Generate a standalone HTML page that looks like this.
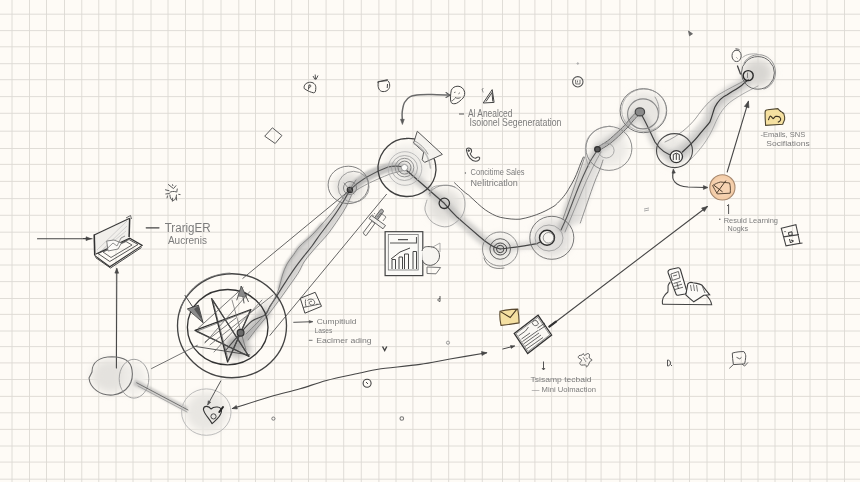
<!DOCTYPE html>
<html><head><meta charset="utf-8"><style>
html,body{margin:0;padding:0;background:#fefbf6;overflow:hidden;}
svg{display:block;}
text{font-family:"Liberation Sans",sans-serif;}
</style></head><body>
<svg width="860" height="482" viewBox="0 0 860 482">
<defs>
<filter id="s1" x="-5%" y="-5%" width="110%" height="110%"><feGaussianBlur stdDeviation="0.35"/></filter>
<filter id="b1" x="-20%" y="-20%" width="140%" height="140%"><feGaussianBlur stdDeviation="1.2"/></filter>
<filter id="b2" x="-20%" y="-20%" width="140%" height="140%"><feGaussianBlur stdDeviation="2"/></filter>
<filter id="b3" x="-30%" y="-30%" width="160%" height="160%"><feGaussianBlur stdDeviation="3"/></filter>
<filter id="b4" x="-50%" y="-50%" width="200%" height="200%"><feGaussianBlur stdDeviation="4"/></filter>
</defs>
<rect x="0" y="0" width="860" height="482" fill="#fefbf6"/>
<g stroke="#dcd9d4" stroke-width="0.9">
<line x1="12" y1="0" x2="12" y2="482"/>
<line x1="29.5" y1="0" x2="29.5" y2="482"/>
<line x1="46.5" y1="0" x2="46.5" y2="482"/>
<line x1="64.5" y1="0" x2="64.5" y2="482"/>
<line x1="81.75" y1="0" x2="81.75" y2="482"/>
<line x1="98.75" y1="0" x2="98.75" y2="482"/>
<line x1="116" y1="0" x2="116" y2="482"/>
<line x1="133" y1="0" x2="133" y2="482"/>
<line x1="151" y1="0" x2="151" y2="482"/>
<line x1="168" y1="0" x2="168" y2="482"/>
<line x1="185.5" y1="0" x2="185.5" y2="482"/>
<line x1="203" y1="0" x2="203" y2="482"/>
<line x1="221" y1="0" x2="221" y2="482"/>
<line x1="238.8" y1="0" x2="238.8" y2="482"/>
<line x1="255.5" y1="0" x2="255.5" y2="482"/>
<line x1="274.6" y1="0" x2="274.6" y2="482"/>
<line x1="291.7" y1="0" x2="291.7" y2="482"/>
<line x1="308.5" y1="0" x2="308.5" y2="482"/>
<line x1="326.1" y1="0" x2="326.1" y2="482"/>
<line x1="343.7" y1="0" x2="343.7" y2="482"/>
<line x1="361.3" y1="0" x2="361.3" y2="482"/>
<line x1="378.9" y1="0" x2="378.9" y2="482"/>
<line x1="396" y1="0" x2="396" y2="482"/>
<line x1="412.9" y1="0" x2="412.9" y2="482"/>
<line x1="431.2" y1="0" x2="431.2" y2="482"/>
<line x1="448.65" y1="0" x2="448.65" y2="482"/>
<line x1="464.8" y1="0" x2="464.8" y2="482"/>
<line x1="482.3" y1="0" x2="482.3" y2="482"/>
<line x1="502.5" y1="0" x2="502.5" y2="482"/>
<line x1="519.3" y1="0" x2="519.3" y2="482"/>
<line x1="534.9" y1="0" x2="534.9" y2="482"/>
<line x1="551.6" y1="0" x2="551.6" y2="482"/>
<line x1="567.8" y1="0" x2="567.8" y2="482"/>
<line x1="585.9" y1="0" x2="585.9" y2="482"/>
<line x1="601.1" y1="0" x2="601.1" y2="482"/>
<line x1="619.9" y1="0" x2="619.9" y2="482"/>
<line x1="636.7" y1="0" x2="636.7" y2="482"/>
<line x1="655" y1="0" x2="655" y2="482"/>
<line x1="673.2" y1="0" x2="673.2" y2="482"/>
<line x1="689.5" y1="0" x2="689.5" y2="482"/>
<line x1="707" y1="0" x2="707" y2="482"/>
<line x1="724.5" y1="0" x2="724.5" y2="482"/>
<line x1="741.25" y1="0" x2="741.25" y2="482"/>
<line x1="758" y1="0" x2="758" y2="482"/>
<line x1="775" y1="0" x2="775" y2="482"/>
<line x1="792.5" y1="0" x2="792.5" y2="482"/>
<line x1="810" y1="0" x2="810" y2="482"/>
<line x1="827" y1="0" x2="827" y2="482"/>
<line x1="844.5" y1="0" x2="844.5" y2="482"/>
<line x1="0" y1="14.2" x2="860" y2="14.2"/>
<line x1="0" y1="30.6" x2="860" y2="30.6"/>
<line x1="0" y1="46.8" x2="860" y2="46.8"/>
<line x1="0" y1="63.7" x2="860" y2="63.7"/>
<line x1="0" y1="79.7" x2="860" y2="79.7"/>
<line x1="0" y1="96.6" x2="860" y2="96.6"/>
<line x1="0" y1="113.3" x2="860" y2="113.3"/>
<line x1="0" y1="131.2" x2="860" y2="131.2"/>
<line x1="0" y1="148.5" x2="860" y2="148.5"/>
<line x1="0" y1="164.4" x2="860" y2="164.4"/>
<line x1="0" y1="181.4" x2="860" y2="181.4"/>
<line x1="0" y1="198.6" x2="860" y2="198.6"/>
<line x1="0" y1="215.3" x2="860" y2="215.3"/>
<line x1="0" y1="232.2" x2="860" y2="232.2"/>
<line x1="0" y1="249.1" x2="860" y2="249.1"/>
<line x1="0" y1="265" x2="860" y2="265"/>
<line x1="0" y1="281.6" x2="860" y2="281.6"/>
<line x1="0" y1="298.5" x2="860" y2="298.5"/>
<line x1="0" y1="314.4" x2="860" y2="314.4"/>
<line x1="0" y1="331" x2="860" y2="331"/>
<line x1="0" y1="346.6" x2="860" y2="346.6"/>
<line x1="0" y1="362.9" x2="860" y2="362.9"/>
<line x1="0" y1="379.5" x2="860" y2="379.5"/>
<line x1="0" y1="396.4" x2="860" y2="396.4"/>
<line x1="0" y1="412.8" x2="860" y2="412.8"/>
<line x1="0" y1="429.4" x2="860" y2="429.4"/>
<line x1="0" y1="446" x2="860" y2="446"/>
<line x1="0" y1="462.1" x2="860" y2="462.1"/>
<line x1="0" y1="479.2" x2="860" y2="479.2"/>
</g>
<g filter="url(#b4)">
<ellipse cx="110.1" cy="376" rx="19" ry="17" fill="#e4e2de" stroke="none" stroke-width="1.0" opacity="1"/>
<ellipse cx="134" cy="379" rx="12" ry="16" fill="#eeece8" stroke="none" stroke-width="1.0" opacity="1"/>
<ellipse cx="206.3" cy="412.1" rx="21" ry="20" fill="#e8e6e2" stroke="none" stroke-width="1.0" opacity="1"/>
<ellipse cx="444.6" cy="206.1" rx="17" ry="17" fill="#e2e0dc" stroke="none" stroke-width="1.0" opacity="1"/>
<ellipse cx="551.8" cy="237.8" rx="19" ry="19" fill="#e0dedb" stroke="none" stroke-width="1.0" opacity="1"/>
<ellipse cx="757.6" cy="72.9" rx="15" ry="14" fill="#d8d6d2" stroke="none" stroke-width="1.0" opacity="1"/>
<ellipse cx="609.5" cy="148.5" rx="18" ry="18" fill="#ebe9e5" stroke="none" stroke-width="1.0" opacity="1"/>
<ellipse cx="643.7" cy="111.1" rx="20" ry="19" fill="#e8e6e2" stroke="none" stroke-width="1.0" opacity="1"/>
<ellipse cx="674.5" cy="150.6" rx="15" ry="15" fill="#ebe9e5" stroke="none" stroke-width="1.0" opacity="1"/>
<ellipse cx="406.8" cy="167.6" rx="22" ry="22" fill="#eeece8" stroke="none" stroke-width="1.0" opacity="1"/>
<ellipse cx="349" cy="187" rx="15" ry="14" fill="#e0deda" stroke="none" stroke-width="1.0" opacity="1"/>
<ellipse cx="500.2" cy="249" rx="15" ry="15" fill="#eceae6" stroke="none" stroke-width="1.0" opacity="1"/>
</g>
<path d="M347.0,192.0 C345.1,193.2 342.5,198.6 340.0,202.0 C337.5,205.4 335.2,208.7 332.2,212.4 C329.2,216.1 325.3,220.3 322.0,224.0 C318.7,227.7 315.9,231.1 312.2,234.8 C308.5,238.5 303.1,242.7 300.0,246.0 C296.9,249.3 295.8,251.7 293.6,254.7 C291.4,257.7 288.9,260.6 287.0,264.0 C285.1,267.4 283.8,271.0 282.5,275.0 C281.2,279.0 280.2,284.2 279.0,288.0 C277.8,291.8 276.8,294.3 275.0,298.0 C273.2,301.7 270.8,306.0 268.0,310.0 C265.2,314.0 261.7,318.0 258.0,322.0 C254.3,326.0 247.7,331.0 246.0,334.0 C244.3,337.0 246.0,341.2 248.0,340.0 C250.0,338.8 254.7,331.2 258.0,327.0 C261.3,322.8 264.6,319.3 268.0,315.0 C271.4,310.7 275.1,305.6 278.2,301.4 C281.3,297.2 283.2,294.5 286.5,289.8 C289.8,285.1 295.2,277.8 298.1,273.2 C301.0,268.6 301.9,265.4 304.0,262.0 C306.1,258.6 308.7,255.8 311.0,253.0 C313.3,250.2 315.3,248.0 318.0,245.0 C320.7,242.0 324.7,237.8 327.2,234.8 C329.7,231.8 330.9,229.9 333.0,227.0 C335.1,224.1 337.4,220.6 339.6,217.3 C341.8,214.0 344.0,210.7 346.0,207.0 C348.0,203.3 351.3,197.5 351.5,195.0 C351.7,192.5 348.9,190.8 347.0,192.0 Z" fill="#b4b4b4" opacity="0.55" filter="url(#b1)"/>
<path d="M322.0,224.0 C320.4,225.8 315.9,231.1 312.2,234.8 C308.5,238.5 303.1,242.7 300.0,246.0 C296.9,249.3 295.8,251.7 293.6,254.7 C291.4,257.7 288.9,260.6 287.0,264.0 C285.1,267.4 283.8,271.0 282.5,275.0 C281.2,279.0 279.6,285.8 279.0,288.0" fill="none" stroke="#999" stroke-width="3.5" opacity="0.5" stroke-linecap="round" stroke-linejoin="round" filter="url(#b1)"/>
<path d="M229.5,355.5 C232.5,355.2 236.6,349.3 240.0,346.5 C243.4,343.6 246.4,341.9 250.0,338.4 C253.7,335.0 258.4,329.8 261.9,325.9 C265.4,322.0 270.7,318.0 271.2,315.2 C271.7,312.3 267.7,308.3 264.8,308.8 C262.0,309.3 257.9,314.7 254.1,318.1 C250.3,321.6 245.7,326.3 242.0,329.6 C238.3,332.8 235.2,334.4 232.0,337.5 C228.7,340.7 222.9,345.5 222.5,348.5 C222.1,351.5 226.6,355.9 229.5,355.5 Z" fill="#a0a0a0" opacity="0.45" filter="url(#b2)"/>
<path d="M352.2,192.5 C354.7,192.1 359.0,187.0 362.6,184.7 C366.3,182.3 369.6,180.6 374.1,178.5 C378.6,176.4 384.5,173.3 389.6,172.0 C394.6,170.8 402.0,172.4 404.5,171.1 C407.0,169.8 407.3,165.4 404.5,164.1 C401.7,162.8 393.6,162.3 387.8,163.2 C382.1,164.1 375.0,167.1 369.9,169.5 C364.8,171.8 361.1,174.4 357.4,177.3 C353.7,180.3 348.4,184.7 347.6,187.3 C346.7,189.8 349.7,193.0 352.2,192.5 Z" fill="#a0a0a0" opacity="0.6" filter="url(#b1)"/>
<path d="M403.0,170.2 C404.3,173.1 410.9,178.6 415.3,182.9 C419.7,187.2 425.0,192.1 429.3,196.0 C433.7,199.9 437.4,202.1 441.5,206.2 C445.7,210.3 449.6,215.9 454.2,220.5 C458.7,225.2 463.8,229.7 468.9,234.2 C474.0,238.6 479.7,244.2 484.7,247.1 C489.7,250.1 496.2,251.9 499.0,251.8 C501.8,251.6 502.9,248.3 501.4,246.2 C499.8,244.2 494.0,242.9 489.7,239.7 C485.4,236.4 480.4,230.9 475.5,226.6 C470.6,222.4 465.2,218.4 460.4,214.1 C455.7,209.7 451.4,204.4 447.1,200.4 C442.8,196.4 439.0,193.9 434.7,190.0 C430.3,186.1 425.3,181.1 420.7,177.1 C416.1,173.0 410.0,166.9 407.0,165.8 C404.1,164.7 401.6,167.3 403.0,170.2 Z" fill="#a4a4a4" opacity="0.5" filter="url(#b2)"/>
<path d="M500.7,252.0 C504.3,252.5 515.2,250.0 521.4,249.2 C527.6,248.3 533.6,248.4 538.0,247.0 C542.4,245.6 546.8,242.7 548.0,240.8 C549.2,238.9 547.0,235.7 545.0,235.6 C543.0,235.5 540.1,239.1 536.0,240.2 C531.9,241.3 526.4,241.3 520.4,242.2 C514.3,243.2 503.0,244.4 499.7,246.0 C496.4,247.7 497.1,251.4 500.7,252.0 Z" fill="#b0b0b0" opacity="0.45" filter="url(#b2)"/>
<path d="M564.7,232.5 C566.9,231.1 569.0,224.4 570.7,220.7 C572.3,217.1 573.0,214.4 574.5,210.4 C576.1,206.5 578.4,201.5 580.1,197.0 C581.8,192.6 583.2,188.0 584.8,183.5 C586.5,179.0 588.4,173.6 590.0,170.0 C591.6,166.5 592.6,165.4 594.4,162.2 C596.2,158.9 600.5,153.0 600.7,150.5 C600.9,148.1 597.9,146.0 595.7,147.3 C593.5,148.5 589.9,154.7 587.6,157.8 C585.3,161.0 584.0,162.3 582.0,166.0 C580.0,169.6 577.6,175.2 575.6,179.7 C573.6,184.2 571.8,188.5 569.9,193.0 C568.0,197.4 565.7,202.5 564.3,206.6 C562.8,210.6 562.5,213.4 561.3,217.3 C560.2,221.1 556.7,226.9 557.3,229.5 C557.9,232.0 562.5,234.0 564.7,232.5 Z" fill="#9a9a9a" opacity="0.45" filter="url(#b2)"/>
<path d="M560.6,229.2 L572,208.5 L582.3,187.7 L590.6,167 L597.9,149.3 L603,160 L600,169 L594.8,181.5 L587.5,202.2 L580.3,223 Z" fill="#c0c0c0" opacity="0.45" filter="url(#b2)"/>
<path d="M599.6,152.6 C602.3,152.6 607.5,148.7 611.4,145.9 C615.3,143.1 618.8,139.8 623.1,135.6 C627.3,131.4 633.6,124.0 636.8,120.5 C640.1,117.1 642.4,116.7 642.5,114.8 C642.5,112.8 639.1,108.9 637.1,108.8 C635.1,108.7 633.8,110.9 630.4,114.3 C627.0,117.7 620.8,125.1 616.7,129.2 C612.7,133.3 609.6,135.9 606.0,138.7 C602.4,141.5 596.5,143.5 595.4,145.8 C594.3,148.1 596.9,152.6 599.6,152.6 Z" fill="#a8a8a8" opacity="0.45" filter="url(#b2)"/>
<path d="M638.4,115.5 C638.5,118.1 642.3,123.0 644.4,127.8 C646.5,132.6 648.3,139.8 651.2,144.4 C654.1,148.9 657.7,152.8 661.7,155.3 C665.8,157.8 672.8,159.8 675.4,159.6 C678.1,159.4 679.1,155.8 677.6,154.0 C676.0,152.2 669.4,151.1 666.3,148.7 C663.1,146.3 661.3,143.7 658.8,139.6 C656.4,135.6 654.1,128.7 651.6,124.2 C649.0,119.7 645.8,113.9 643.6,112.5 C641.4,111.0 638.3,113.0 638.4,115.5 Z" fill="#aaaaaa" opacity="0.45" filter="url(#b2)"/>
<path d="M669.9,162.6 C673.3,163.3 680.9,161.0 686.5,157.7 C692.0,154.3 698.2,147.8 703.2,142.5 C708.2,137.3 713.7,131.5 716.7,126.3 C719.7,121.1 718.6,115.7 721.1,111.3 C723.6,107.0 727.6,103.8 731.6,100.2 C735.7,96.6 742.3,92.7 745.6,89.9 C748.9,87.0 751.2,85.4 751.3,83.2 C751.5,81.1 748.7,77.3 746.7,76.8 C744.6,76.2 742.8,77.8 738.8,79.9 C734.8,82.0 727.8,85.5 722.8,89.4 C717.7,93.3 711.8,98.5 708.5,103.3 C705.2,108.1 705.7,113.4 702.9,118.1 C700.1,122.9 695.5,127.0 691.4,131.7 C687.3,136.4 682.6,142.7 678.3,146.3 C674.1,149.9 667.5,150.7 666.1,153.4 C664.7,156.1 666.5,161.9 669.9,162.6 Z" fill="#b4b4b4" opacity="0.5" filter="url(#b2)"/>
<path d="M684.2,153.8 C687.3,151.9 694.8,144.1 699.5,139.1 C704.2,134.1 709.4,128.8 712.4,123.7 C715.4,118.7 714.5,113.3 717.3,108.9 C720.1,104.5 724.7,100.8 729.1,97.1 C733.5,93.5 740.1,89.6 743.6,87.0 C747.1,84.4 749.5,83.1 750.2,81.6 C750.9,80.2 749.4,78.2 747.8,78.4 C746.3,78.6 744.6,80.5 740.8,82.8 C737.0,85.2 730.1,88.7 725.3,92.5 C720.5,96.3 715.3,101.0 712.3,105.7 C709.3,110.4 710.1,115.8 707.2,120.7 C704.4,125.6 699.5,130.1 695.1,135.1 C690.7,140.0 682.5,147.1 680.6,150.2 C678.8,153.3 681.0,155.6 684.2,153.8 Z" fill="#999" opacity="0.22" filter="url(#b1)"/>
<path d="M226,340 L246,335 L252,353 L234,359 Z" fill="#888" opacity="0.55" filter="url(#b3)"/>
<path d="M262,305 L276,296 L250,335 L238,342 Z" fill="#999" opacity="0.35" filter="url(#b3)"/>
<path d="M135.0,379.0 L160.0,392.0 L188.0,407.0 L186.0,412.0 L158.0,397.0 L133.0,385.0 Z" fill="#999" opacity="0.45" filter="url(#b1)"/>
<g filter="url(#s1)">
<path d="M226.0,350.0 C228.6,346.9 237.5,336.4 241.8,331.6 C246.1,326.8 248.2,323.8 252.0,321.0 C255.8,318.2 261.9,317.4 264.9,315.0 C267.9,312.6 268.0,309.5 269.9,306.4 C271.8,303.3 274.0,300.3 276.5,296.4 C279.0,292.5 281.8,287.8 284.8,283.1 C287.9,278.4 291.5,272.9 294.8,268.2 C298.1,263.5 301.9,258.7 304.8,255.0 C307.7,251.3 309.5,249.3 312.0,246.0 C314.5,242.7 317.0,238.7 319.7,235.0 C322.4,231.3 325.3,227.7 328.0,224.0 C330.7,220.3 333.5,216.7 336.0,213.0 C338.5,209.3 340.7,205.8 343.0,202.0 C345.3,198.2 348.8,191.9 349.9,189.9" fill="none" stroke="#4a4a4a" stroke-width="1.15" opacity="1" stroke-linecap="round" stroke-linejoin="round" />
<path d="M347.0,192.0 C345.8,193.7 342.5,198.6 340.0,202.0 C337.5,205.4 335.2,208.7 332.2,212.4 C329.2,216.1 325.3,220.3 322.0,224.0 C318.7,227.7 315.9,231.1 312.2,234.8 C308.5,238.5 303.1,242.7 300.0,246.0 C296.9,249.3 295.8,251.7 293.6,254.7 C291.4,257.7 288.9,260.6 287.0,264.0 C285.1,267.4 283.8,271.0 282.5,275.0 C281.2,279.0 280.2,284.2 279.0,288.0 C277.8,291.8 276.8,294.3 275.0,298.0 C273.2,301.7 270.8,306.0 268.0,310.0 C265.2,314.0 261.7,318.0 258.0,322.0 C254.3,326.0 248.0,332.0 246.0,334.0" fill="none" stroke="#777" stroke-width="0.8" opacity="1" stroke-linecap="round" stroke-linejoin="round" />
<path d="M351.5,195.0 C350.6,197.0 348.0,203.3 346.0,207.0 C344.0,210.7 341.8,214.0 339.6,217.3 C337.4,220.6 335.1,224.1 333.0,227.0 C330.9,229.9 329.7,231.8 327.2,234.8 C324.7,237.8 320.7,242.0 318.0,245.0 C315.3,248.0 313.3,250.2 311.0,253.0 C308.7,255.8 306.1,258.6 304.0,262.0 C301.9,265.4 301.0,268.6 298.1,273.2 C295.2,277.8 289.8,285.1 286.5,289.8 C283.2,294.5 281.3,297.2 278.2,301.4 C275.1,305.6 271.4,310.7 268.0,315.0 C264.6,319.3 261.3,322.8 258.0,327.0 C254.7,331.2 249.7,337.8 248.0,340.0" fill="none" stroke="#7a7a7a" stroke-width="0.8" opacity="1" stroke-linecap="round" stroke-linejoin="round" />
<path d="M349.9,189.9 C360,180 372,173 388,167 C395,165.5 400,165.8 404.5,167.6" fill="none" stroke="#555" stroke-width="1.2" opacity="1" stroke-linecap="round" stroke-linejoin="round" />
<path d="M352,193 C362,186 375,180 390,174 C397,172 402,171 405,170" fill="none" stroke="#888" stroke-width="0.8" opacity="1" stroke-linecap="round" stroke-linejoin="round" />
<path d="M406,170 C418,180 432,193 444.3,203.3 C450,210 455,215 457.3,217.3 C465,224 472,230 480,237 C488,244 494,248 500.2,249" fill="none" stroke="#444" stroke-width="1.2" opacity="1" stroke-linecap="round" stroke-linejoin="round" />
<path d="M500.2,249 C512,247.5 525,246 537,243.6 C541,242 544,240 546.5,238.2" fill="none" stroke="#444" stroke-width="1.1" opacity="1" stroke-linecap="round" stroke-linejoin="round" />
<path d="M561.0,230.0 C561.8,228.2 564.5,222.5 566.0,219.0 C567.5,215.5 568.5,212.8 570.0,209.0 C571.5,205.2 573.3,200.3 575.0,196.0 C576.7,191.7 578.4,187.3 580.2,183.0 C582.0,178.7 584.2,173.8 586.0,170.0 C587.8,166.2 589.0,163.5 591.0,160.0 C593.0,156.5 597.0,150.8 598.2,148.9" fill="none" stroke="#555" stroke-width="1.1" opacity="1" stroke-linecap="round" stroke-linejoin="round" />
<path d="M565.0,232.0 C565.8,230.0 568.3,224.0 570.0,220.0 C571.7,216.0 573.3,212.0 575.0,208.0 C576.7,204.0 578.3,200.0 580.0,196.0 C581.7,192.0 583.2,188.2 585.0,184.0 C586.8,179.8 589.2,174.8 591.0,171.0 C592.8,167.2 594.3,164.2 596.0,161.0 C597.7,157.8 600.2,153.5 601.0,152.0" fill="none" stroke="#888" stroke-width="0.8" opacity="1" stroke-linecap="round" stroke-linejoin="round" />
<line x1="563" y1="219" x2="584.7" y2="157" stroke="#777" stroke-width="0.8" opacity="1" stroke-linecap="round"/>
<path d="M580.3,223.0 C581.5,219.5 585.1,209.1 587.5,202.2 C589.9,195.3 592.7,187.0 594.8,181.5 C596.9,176.0 598.6,172.6 600.0,169.0 C601.4,165.4 602.5,161.5 603.0,160.0" fill="none" stroke="#777" stroke-width="0.8" opacity="1" stroke-linecap="round" stroke-linejoin="round" />
<path d="M454.5,182.8 C460,188 465,193 468.5,195 C475,201 480,206 485.3,209.9 C490,213 495,216 500.2,217.3 C508,219 515,219.5 520,219.2 C536,216.3 548,210 555,205.5 C562,199 566,194 568.5,189.3 C573,182 576,176 578,170.4 C580,165 582,160 583.4,157" fill="none" stroke="#555" stroke-width="0.95" opacity="1" stroke-linecap="round" stroke-linejoin="round" />
<path d="M598.4,150.7 C600.3,149.6 606.0,146.6 609.8,143.7 C613.6,140.9 618.0,136.7 621.1,133.7 C624.3,130.8 626.4,128.6 628.7,126.1 C631.0,123.6 632.9,120.8 634.9,118.6 C637.0,116.5 640.0,114.1 641.0,113.1" fill="none" stroke="#5a5a5a" stroke-width="0.9" opacity="1" stroke-linecap="round" stroke-linejoin="round" />
<path d="M596.6,147.7 C598.4,146.5 603.9,143.6 607.6,140.9 C611.3,138.1 615.6,133.9 618.7,131.1 C621.7,128.2 623.8,126.2 626.1,123.7 C628.3,121.2 630.2,118.4 632.3,116.2 C634.4,114.0 637.5,111.4 638.6,110.5" fill="none" stroke="#5a5a5a" stroke-width="0.9" opacity="1" stroke-linecap="round" stroke-linejoin="round" />
<path d="M597.5,149.2 C599.4,148.0 605.0,145.1 608.7,142.3 C612.4,139.5 616.8,135.3 619.9,132.4 C623.0,129.5 625.1,127.4 627.4,124.9 C629.7,122.4 631.5,119.6 633.6,117.4 C635.7,115.2 638.8,112.7 639.8,111.8" fill="none" stroke="#a0a0a0" stroke-width="2.6" opacity="0.55" stroke-linecap="round" stroke-linejoin="round" />
<path d="M641,114 C646,122 650,132 655,142 C660,150 666,155 676.5,156.8" fill="none" stroke="#444" stroke-width="1.2" opacity="1" stroke-linecap="round" stroke-linejoin="round" />
<path d="M682.4,152 C690,145 695,140 697.3,137.1 C703,130 707,126 709.8,122.2 C712,117 713,112 714.8,107.3 C718,101 722,97 727.2,94.8 C733,91 738,88 742.2,84.9 C745,82 747,81 748.4,79.9" fill="none" stroke="#3a3a3a" stroke-width="1.2" opacity="1" stroke-linecap="round" stroke-linejoin="round" />
<path d="M665,142 C678,136 688,128 696,118 C703,108 710,100 718,95 C728,89 738,84 746,80" fill="none" stroke="#888" stroke-width="0.8" opacity="1" stroke-linecap="round" stroke-linejoin="round" />
<path d="M690,160 C700,150 708,140 714,126 C719,114 724,106 733,100 C742,94 750,90 758,86" fill="none" stroke="#999" stroke-width="0.8" opacity="1" stroke-linecap="round" stroke-linejoin="round" />
<line x1="347" y1="192.4" x2="242.8" y2="278.4" stroke="#555" stroke-width="0.9" opacity="1" stroke-linecap="round"/>
<line x1="386.5" y1="194.3" x2="269.9" y2="335.4" stroke="#555" stroke-width="0.9" opacity="1" stroke-linecap="round"/>
<ellipse cx="232" cy="325.7" rx="54.5" ry="52" fill="none" stroke="#444" stroke-width="1.35" opacity="1"/>
<path d="M180,312 C184,290 205,274 230,273" fill="none" stroke="#777" stroke-width="0.8" opacity="1" stroke-linecap="round" stroke-linejoin="round" />
<ellipse cx="227.7" cy="327.2" rx="40.3" ry="37.7" fill="none" stroke="#333" stroke-width="1.35" opacity="1"/>
<path d="M211.7,298.7 L249,356.5 L195,330.4 L250.9,309.5 L227.6,362 L211.7,298.7" fill="none" stroke="#2e2e2e" stroke-width="1.3" opacity="1" stroke-linecap="round" stroke-linejoin="round" />
<path d="M212.5,299.5 L248,355.5 L196,331.5 L250,310.5 L228.5,361 L212.5,299.5" fill="none" stroke="#555" stroke-width="0.7" opacity="1" stroke-linecap="round" stroke-linejoin="round" />
<line x1="243.1" y1="287.5" x2="198.3" y2="328.2" stroke="#555" stroke-width="0.8" opacity="1" stroke-linecap="round"/>
<line x1="249.8" y1="291.6" x2="205" y2="343" stroke="#666" stroke-width="0.8" opacity="1" stroke-linecap="round"/>
<line x1="273" y1="295" x2="210" y2="344.8" stroke="#666" stroke-width="0.8" opacity="1" stroke-linecap="round"/>
<line x1="195" y1="346.4" x2="249.8" y2="355" stroke="#444" stroke-width="0.9" opacity="1" stroke-linecap="round"/>
<line x1="262" y1="300" x2="214" y2="352" stroke="#666" stroke-width="0.8" opacity="1" stroke-linecap="round"/>
<line x1="236" y1="318" x2="205" y2="342" stroke="#555" stroke-width="0.8" opacity="1" stroke-linecap="round"/>
<line x1="232" y1="300" x2="246" y2="350" stroke="#666" stroke-width="0.7" opacity="1" stroke-linecap="round"/>
<path d="M241.3,286.5 L236.8,299.9 M241.3,286.5 L248.4,301.6 M241.3,286.5 L244,303" fill="none" stroke="#444" stroke-width="0.9" opacity="1" stroke-linecap="round" stroke-linejoin="round" />
<path d="M241.3,286.5 L238,296 L246,297 Z" fill="#8a8a8a" stroke="#555" stroke-width="0.6" opacity="1" stroke-linecap="round" stroke-linejoin="round" />
<line x1="185" y1="295.4" x2="202.9" y2="322.2" stroke="#444" stroke-width="1.0" opacity="1" stroke-linecap="round"/>
<path d="M187.7,308.8 L198.4,305.2 L202.9,322.2 Z" fill="#8a8a8a" stroke="#3a3a3a" stroke-width="0.9" opacity="1" stroke-linecap="round" stroke-linejoin="round" />
<path d="M194,309 L202,320 L198.4,306 Z" fill="#555" stroke="none" stroke-width="0" opacity="1" stroke-linecap="round" stroke-linejoin="round" />
<ellipse cx="240.6" cy="332.8" rx="3.4" ry="3.4" fill="#6a6a6a" stroke="#333" stroke-width="1.2" opacity="1"/>
<ellipse cx="348.3" cy="184.9" rx="20.2" ry="18.7" fill="none" stroke="#707070" stroke-width="0.9" opacity="1"/>
<ellipse cx="353.6" cy="186.8" rx="15.5" ry="15.5" fill="none" stroke="#8a8a8a" stroke-width="0.8" opacity="1"/>
<ellipse cx="350" cy="188" rx="6.5" ry="6.5" fill="none" stroke="#777" stroke-width="0.9" opacity="1"/>
<ellipse cx="349.9" cy="189.9" rx="2.6" ry="2.6" fill="#555" stroke="#333" stroke-width="1.3" opacity="1"/>
<path d="M344,183 L349,189 M356,180 L350,189 M350,189 L354,194" fill="none" stroke="#777" stroke-width="0.8" opacity="1" stroke-linecap="round" stroke-linejoin="round" />
<path d="M429,145 C420,139 412,138 406,138.5 C392,139 380,150 378,166 C377,182 390,196 406,196.5 C422,197 435,186 436,170 C436,163 434,157 431,152" fill="none" stroke="#3f3f3f" stroke-width="1.3" opacity="1" stroke-linecap="round" stroke-linejoin="round" />
<ellipse cx="405" cy="168.5" rx="16.8" ry="16.8" fill="none" stroke="#b0b0b0" stroke-width="0.8" opacity="1"/>
<ellipse cx="404.5" cy="168" rx="13" ry="12.5" fill="none" stroke="#a0a0a0" stroke-width="0.8" opacity="1"/>
<ellipse cx="404.5" cy="167.6" rx="9.3" ry="9.3" fill="none" stroke="#8a8a8a" stroke-width="0.9" opacity="1"/>
<ellipse cx="404.5" cy="167.6" rx="6.5" ry="6.5" fill="none" stroke="#777" stroke-width="0.9" opacity="1"/>
<ellipse cx="404.5" cy="167.6" rx="3.2" ry="3.2" fill="#fdfdfb" stroke="#999" stroke-width="1.0" opacity="1"/>
<path d="M417.6,131.5 L442.4,154.4 L424.6,162.4 L422.2,159.8 L423.7,152.1 L413.9,143.2 Z" fill="#f4f2ee" stroke="#555" stroke-width="1.0" opacity="1" stroke-linecap="round" stroke-linejoin="round" />
<path d="M414,143.5 C419,146 424,150 427,156 C429,160 430,164 430.5,168" fill="none" stroke="#999" stroke-width="1.6" opacity="0.6" stroke-linecap="round" stroke-linejoin="round" />
<path d="M415,141 C420,144 425,148 428,154" fill="none" stroke="#777" stroke-width="0.7" opacity="1" stroke-linecap="round" stroke-linejoin="round" />
<path d="M430.0,196.0 C430.3,194.7 430.3,189.8 432.0,188.0 C433.7,186.2 436.7,185.8 440.0,185.5 C443.3,185.2 448.3,184.8 452.0,186.0 C455.7,187.2 459.8,190.0 462.0,193.0 C464.2,196.0 465.0,200.2 465.0,204.0 C465.0,207.8 464.2,212.5 462.0,216.0 C459.8,219.5 455.3,223.2 452.0,225.0 C448.7,226.8 445.5,227.2 442.0,226.5 C438.5,225.8 433.8,223.8 431.0,221.0 C428.2,218.2 425.7,213.5 425.0,210.0 C424.3,206.5 426.7,201.7 427.0,200.0" fill="none" stroke="#999" stroke-width="0.8" opacity="1" stroke-linecap="round" stroke-linejoin="round" />
<path d="M429,194 C433,186 445,183 455,187" fill="none" stroke="#888" stroke-width="0.8" opacity="1" stroke-linecap="round" stroke-linejoin="round" />
<ellipse cx="444.3" cy="203.3" rx="5.2" ry="5.2" fill="none" stroke="#333" stroke-width="1.3" opacity="1"/>
<ellipse cx="500.2" cy="249" rx="17.7" ry="17" fill="none" stroke="#7a7a7a" stroke-width="0.8" opacity="1"/>
<ellipse cx="500.2" cy="249" rx="10.3" ry="10.3" fill="none" stroke="#555" stroke-width="0.9" opacity="1"/>
<ellipse cx="500.2" cy="249" rx="6.5" ry="6" fill="none" stroke="#444" stroke-width="1.0" opacity="1"/>
<ellipse cx="500.2" cy="249" rx="3.7" ry="3.7" fill="none" stroke="#444" stroke-width="1.0" opacity="1"/>
<path d="M484,258 C486,266 494,270 504,268" fill="none" stroke="#666" stroke-width="0.8" opacity="1" stroke-linecap="round" stroke-linejoin="round" />
<ellipse cx="551.8" cy="237.8" rx="22" ry="21.5" fill="none" stroke="#6a6a6a" stroke-width="0.9" opacity="1"/>
<ellipse cx="549" cy="238" rx="14" ry="13" fill="none" stroke="#999" stroke-width="0.8" opacity="1"/>
<ellipse cx="547" cy="237.8" rx="7.5" ry="7.5" fill="#f6f4f0" stroke="#2e2e2e" stroke-width="1.4" opacity="1"/>
<ellipse cx="548.5" cy="237.8" rx="5.3" ry="5.3" fill="none" stroke="#777" stroke-width="0.8" opacity="1"/>
<ellipse cx="608.9" cy="148.4" rx="23" ry="22" fill="none" stroke="#808080" stroke-width="0.9" opacity="1"/>
<path d="M589.0,167.0 C588.4,165.0 585.8,159.5 585.5,155.0 C585.2,150.5 585.2,144.2 587.0,140.0 C588.8,135.8 592.2,132.3 596.0,130.0 C599.8,127.7 607.7,126.7 610.0,126.0" fill="none" stroke="#999" stroke-width="0.8" opacity="1" stroke-linecap="round" stroke-linejoin="round" />
<ellipse cx="606.3" cy="150.5" rx="7.8" ry="7.5" fill="none" stroke="#999" stroke-width="0.8" opacity="1"/>
<ellipse cx="597.5" cy="149.2" rx="2.8" ry="2.6" fill="#555" stroke="#333" stroke-width="1.3" opacity="1"/>
<ellipse cx="643.4" cy="110.7" rx="23.3" ry="22" fill="none" stroke="#777" stroke-width="1.0" opacity="1"/>
<ellipse cx="644" cy="110.2" rx="22.3" ry="21.2" fill="none" stroke="#999" stroke-width="0.7" opacity="1"/>
<ellipse cx="643" cy="113.9" rx="15.4" ry="15" fill="none" stroke="#888" stroke-width="1.1" opacity="1"/>
<path d="M655,97 C659,103 660,110 658,118" fill="none" stroke="#999" stroke-width="0.9" opacity="1" stroke-linecap="round" stroke-linejoin="round" />
<ellipse cx="639.9" cy="111.9" rx="4.7" ry="4.0" fill="#8a8a8a" stroke="#444" stroke-width="1.2" opacity="1"/>
<ellipse cx="674.5" cy="150.6" rx="18" ry="17" fill="none" stroke="#4a4a4a" stroke-width="1.1" opacity="1"/>
<ellipse cx="676.3" cy="156.6" rx="6.2" ry="6" fill="#fbfaf7" stroke="#333" stroke-width="1.3" opacity="1"/>
<path d="M673.3,159.8 L673.3,154.5 Q676.3,151.8 679.3,154.5 L679.3,159.8 M676.3,154 L676.3,159.5" fill="none" stroke="#333" stroke-width="0.95" opacity="1" stroke-linecap="round" stroke-linejoin="round" />
<ellipse cx="757.9" cy="72.9" rx="16.5" ry="16.3" fill="none" stroke="#6a6a6a" stroke-width="1.0" opacity="1"/>
<path d="M744,63 C748,56 755,54 762,55 C770,57 775,63 775.5,72 C775.5,80 771,87 764,89" fill="none" stroke="#8a8a8a" stroke-width="0.9" opacity="1" stroke-linecap="round" stroke-linejoin="round" />
<path d="M742.6,57.5 C746,54 752,53.5 757,54" fill="none" stroke="#999" stroke-width="0.8" opacity="1" stroke-linecap="round" stroke-linejoin="round" />
<ellipse cx="748.2" cy="75.6" rx="5.0" ry="5.0" fill="none" stroke="#2a2a2a" stroke-width="1.4" opacity="1"/>
<path d="M747.5,73 L747.5,77.5" fill="none" stroke="#666" stroke-width="0.8" opacity="1" stroke-linecap="round" stroke-linejoin="round" />
<path d="M737.5,66 L740.5,74" fill="none" stroke="#444" stroke-width="1.3" opacity="1" stroke-linecap="round" stroke-linejoin="round" />
</g>
<g filter="url(#s1)">
<line x1="37.5" y1="238.7" x2="90.7" y2="238.7" stroke="#444" stroke-width="1.1" opacity="1" stroke-linecap="round"/>
<path d="M90.7,238.7 L86.1,240.6 L86.1,236.8 Z" fill="#444" stroke="#444" stroke-width="0.66" stroke-linejoin="round"/>
<line x1="116.4" y1="368" x2="116.8" y2="268.5" stroke="#484848" stroke-width="1.1" opacity="1" stroke-linecap="round"/>
<path d="M116.8,268.5 L118.6,273.2 L114.9,273.1 Z" fill="#484848" stroke="#484848" stroke-width="0.66" stroke-linejoin="round"/>
<line x1="146.2" y1="227.8" x2="159" y2="227.8" stroke="#444" stroke-width="1.2" opacity="1" stroke-linecap="round"/>
<path d="M92,372 C92,362 100,357 112,356.8 C124,357 131,362 132,370 C134,381 128,393 113,395 C100,396 90,388 89,378 Z" fill="none" stroke="#6e6e6e" stroke-width="1.1" opacity="1" stroke-linecap="round" stroke-linejoin="round" />
<ellipse cx="134" cy="378.7" rx="14.8" ry="19.4" fill="none" stroke="#9a9a9a" stroke-width="0.9" opacity="1"/>
<path d="M136.7,382.8 L188,410" fill="none" stroke="#666" stroke-width="0.9" opacity="1" stroke-linecap="round" stroke-linejoin="round" />
<path d="M138,386 L187,412" fill="none" stroke="#999" stroke-width="0.8" opacity="1" stroke-linecap="round" stroke-linejoin="round" />
<line x1="151.5" y1="368.6" x2="197.4" y2="345.3" stroke="#666" stroke-width="0.9" opacity="1" stroke-linecap="round"/>
<ellipse cx="206.3" cy="412.1" rx="24.7" ry="23.2" fill="none" stroke="#b4b4b4" stroke-width="0.9" opacity="1"/>
<path d="M203.4,409.2 C204,405 209,406 211,409 C214,406 221.5,406 221.5,411 C221.5,416 216,420 212.1,423.7 C209,418 204,414 203.4,409.2 Z" fill="none" stroke="#333" stroke-width="1.1" opacity="1" stroke-linecap="round" stroke-linejoin="round" />
<ellipse cx="213.5" cy="416.4" rx="2.6" ry="2.6" fill="none" stroke="#444" stroke-width="1.0" opacity="1"/>
<path d="M219.3,412 L223,407" fill="none" stroke="#222" stroke-width="2.0" opacity="1" stroke-linecap="round" stroke-linejoin="round" />
<line x1="220.8" y1="380.9" x2="207.7" y2="404.8" stroke="#555" stroke-width="1.0" opacity="1" stroke-linecap="round"/>
<path d="M207.7,404.8 L208.2,400.8 L210.8,402.3 Z" fill="#555" stroke="#555" stroke-width="0.6" stroke-linejoin="round"/>
<path d="M232.4,408.5 C238.7,406.6 258.7,400.1 270.0,396.8 C281.3,393.5 290.6,391.5 300.0,388.8 C309.4,386.1 316.3,383.2 326.5,380.5 C336.7,377.8 352.8,374.7 361.4,372.8 C370.0,370.9 368.3,370.7 378.1,369.3 C387.9,367.9 408.0,366.1 420.0,364.4 C432.0,362.7 438.9,360.9 450.0,359.0 C461.1,357.1 480.7,353.8 486.8,352.8" fill="none" stroke="#474747" stroke-width="1.1" opacity="1" stroke-linecap="round" stroke-linejoin="round" />
<path d="M232.4,408.5 L236.3,405.4 L237.4,409.0 Z" fill="#474747" stroke="#474747" stroke-width="0.6" stroke-linejoin="round"/>
<path d="M486.8,352.8 L482.0,355.5 L481.5,351.5 Z" fill="#474747" stroke="#474747" stroke-width="0.6" stroke-linejoin="round"/>
<line x1="502.8" y1="349" x2="514.5" y2="346" stroke="#444" stroke-width="1.0" opacity="1" stroke-linecap="round"/>
<path d="M514.5,346.0 L511.3,348.4 L510.5,345.5 Z" fill="#444" stroke="#444" stroke-width="0.6" stroke-linejoin="round"/>
<line x1="549.3" y1="326.7" x2="707.4" y2="206.5" stroke="#474747" stroke-width="1.1" opacity="1" stroke-linecap="round"/>
<path d="M707.4,206.5 L704.3,211.6 L701.6,208.1 Z" fill="#474747" stroke="#474747" stroke-width="0.66" stroke-linejoin="round"/>
<path d="M549.3,326.7 L556,321.6" fill="none" stroke="#333" stroke-width="2.2" opacity="1" stroke-linecap="round" stroke-linejoin="round" />
<line x1="727.2" y1="172" x2="748.4" y2="101.3" stroke="#474747" stroke-width="1.1" opacity="1" stroke-linecap="round"/>
<path d="M748.4,101.3 L749.0,107.8 L744.4,106.4 Z" fill="#474747" stroke="#474747" stroke-width="0.66" stroke-linejoin="round"/>
<path d="M673.3,172 C671,180 675,186 688,187 L705,187.5" fill="none" stroke="#474747" stroke-width="1.1" opacity="1" stroke-linecap="round" stroke-linejoin="round" />
<path d="M708.0,187.5 L703.4,189.4 L703.4,185.6 Z" fill="#474747" stroke="#474747" stroke-width="0.6" stroke-linejoin="round"/>
<path d="M673.3,169.0 L675.3,173.0 L672.0,173.3 Z" fill="#474747" stroke="#474747" stroke-width="0.6" stroke-linejoin="round"/>
<path d="M448.7,95.1 C445.9,95.0 436.7,94.6 432.0,94.5 C427.3,94.4 424.2,94.4 420.6,94.7 C417.0,95.0 413.0,95.3 410.3,96.6 C407.6,97.9 405.9,99.9 404.5,102.5 C403.1,105.1 402.6,108.9 402.2,112.0 C401.8,115.1 402.4,119.5 402.4,121.0" fill="none" stroke="#6a6a6a" stroke-width="1.5" opacity="1" stroke-linecap="round" stroke-linejoin="round" />
<path d="M402.4,124.5 L400.5,119.3 L404.3,119.3 Z" fill="#5a5a5a" stroke="#5a5a5a" stroke-width="0.6" stroke-linejoin="round"/>
<path d="M446,92.5 L450,95.2 L446,97.5" fill="none" stroke="#5a5a5a" stroke-width="1.1" opacity="1" stroke-linecap="round" stroke-linejoin="round" />
</g>
<g filter="url(#s1)" fill="none" stroke="#444" stroke-width="1">
<path d="M94.2,235 L129.7,218.2 L129.1,237.5 L96,254 Z" fill="#f1efeb" stroke="none"/>
<path d="M97,250 L127,221 M100,252 L127,226 M103,250 L126,231" stroke="#bbb" stroke-width="0.6"/>
<path d="M94.2,235 L129.7,218.2" stroke="#3a3a3a" stroke-width="1.1"/>
<path d="M94.2,234.5 L94.8,255.6" stroke="#333" stroke-width="1.6"/>
<path d="M129.7,218.2 L129.1,237" stroke="#333" stroke-width="1.5"/>
<path d="M126,218 L130.5,215.5 L131.5,219" stroke="#555" stroke-width="0.9"/>
<path d="M94.8,255.6 L109.8,266.8 L142.2,245.4 L129.7,238.2 L96,254" stroke="#333" stroke-width="1.1"/>
<path d="M95.5,257.5 L110.5,268 L141.5,247.5" stroke="#444" stroke-width="1.0"/>
<path d="M98,253.5 L109.8,261.5 L138,244.5 L129,239.5 Z" stroke="#444" stroke-width="0.9"/>
<path d="M103,252 L111,257.5 L132,245 L126,241.5 Z" stroke="#555" stroke-width="0.9"/>
<path d="M106.7,241 L114,240 L121.5,243 L118,249 L108,251 Z" fill="#fbfaf8" stroke="#666" stroke-width="0.8"/>
<path d="M106.7,249 L113,243 L117,246 L121,238 L125,236" stroke="#777" stroke-width="0.8"/>
<path d="M83,238.5 L92.5,238.7" stroke="#444" stroke-width="1.1"/>
<g stroke="#5a5a5a" stroke-width="1.0"><path d="M168.1,184.3 L173.5,188.6 L176.2,185.4 M172.4,184.3 L173,186 M165.1,189.7 L169.4,190.8 M177.3,188.6 L176.7,192.4 M169.7,192.4 C171,191.5 174,191 176.2,191.9 M169.9,194.6 C170,198 171,200 173,200.5 C175,200.5 176.5,198 176.5,194.6 M165.4,194 L169.7,193.5 M178.3,194.3 L180.5,194.6 M167.5,195.6 L167,198.3 M172.4,197.8 L172.4,201.6 M176.2,196.7 L176.7,200.5"/></g>
<path d="M264.7,136.2 L272.4,127.8 L281.9,135.5 L275.2,143.5 Z" stroke="#5a5a5a"/>
<path d="M304.2,88.5 C303.5,85 306,82.8 309.5,82.3 C313,82 315.8,84 315.8,87.5 C315.8,90.5 315.5,93 313.5,92.8 C311,92.2 308,91.3 304.2,88.5 Z M308.5,89.5 L309,85 C311,84.5 312,86.5 309.2,87.5" stroke="#444" stroke-width="1"/>
<path d="M313,76 L315,79.5 M315.2,74.5 L315.5,79.5 M318,75.5 L316,79.5" stroke="#555" stroke-width="1"/>
<path d="M378.2,83 C377.5,88 379.5,91.5 383,91.6 C387.5,91.8 390,88.5 389.7,85 C389.5,82.5 388.5,81 387.5,80.6 L378.5,81.5 Z M377.2,82.2 L387.7,79.6 M387.5,84 L387.2,88" stroke="#444" stroke-width="1"/>
<path d="M451.3,90.2 C452.5,87.5 455,86.2 458,86.2 C461,86.3 464,88.5 464.7,92.3 C465,95.5 463.5,98 461.5,99.5 C459.5,101.5 457,103.5 455,103.7 C452.5,104 451,103 450.8,101.5 C450.2,98.5 450.5,94 451.3,90.2 Z" stroke="#444" stroke-width="1"/>
<path d="M454.5,93 L455.2,91.8 M458.5,93.8 L459.8,92.8 M455,97.5 C457,98.5 459,98.5 460.5,97.5 M451.5,101 C453,100.5 454,99.5 454.5,98.5" stroke="#444" stroke-width="0.9"/>
<path d="M483.2,103 L492.2,89.6 L494.1,102.4 Z M486,101.5 L492,92.5 L492.8,101.5" stroke="#444" stroke-width="1"/>
<path d="M482,89 L483.2,92.5 M482,89 L483.5,88.5" stroke="#777" stroke-width="0.8"/>
<circle cx="577.8" cy="81.8" r="5.2" stroke="#555" stroke-width="1.1"/><path d="M575.5,80 L575.8,84 L580,84 L580,80 M577.5,80.5 L577.5,82.5" stroke="#555" stroke-width="0.8"/>
<path d="M577.8,62 L577.8,65 M576.5,63.5 L579,63.5" stroke="#aaa" stroke-width="0.8"/>
<path d="M466.5,150.5 C466,148.3 468.5,147.3 470.6,148.7 C472.2,150 471.7,152.6 470.2,153.6 C471.2,156 473.2,157.9 475.6,158.3 C477,157.3 478.6,156.4 479.6,157.5 C480.2,159.6 478.2,161.2 475.5,161.2 C471,160.7 467.4,156.2 466.5,150.5 Z" stroke="#4a4a4a" stroke-width="1.1"/>
<circle cx="468.8" cy="150.6" r="0.8" fill="#555"/>
<path d="M372,222 L380.8,209.4 C382,208.8 383,209.5 383.5,211.5 L375,224 Z" fill="#aaa" stroke="none"/>
<path d="M363.3,232.6 L380.8,209.4 C382,208.8 383,209.5 383.5,211.5 L366.2,235.5 C365,235.8 364,234.5 363.3,232.6 Z" stroke="#555" stroke-width="0.9"/>
<path d="M369,218.5 L371.5,215.5 L385.5,225.5 L383,228.8 Z" fill="#f2f0ec" stroke="#555" stroke-width="0.9"/>
<path d="M377.5,217 L381,213 L386,217 L383,221" stroke="#666" stroke-width="0.8"/>
<path d="M372.5,214.5 L373.5,216.5 M374,214 L375,213" stroke="#666" stroke-width="0.7"/>
<rect x="385.1" y="231.7" width="37.7" height="43.9" stroke="#444" stroke-width="1.2" fill="#fbfaf7"/>
<rect x="388.3" y="234.5" width="29.9" height="35.5" stroke="#777" stroke-width="0.8"/>
<path d="M390,243 L416.5,243 L416.5,237 M398,239.6 L408,239.6" stroke="#555" stroke-width="1.1"/>
<path d="M392,269 L392,259.5 L395.5,259.5 L395.5,269 M399,269 L399,257 L402.5,257 L402.5,269 M404.5,269 L404.5,254 L408.5,254 L408.5,269 M413,269 L413,251.5 L416.5,251.5 L416.5,269 M391,259 L400,252 L410,248" stroke="#444"/>
<path d="M422,251 C423,246 427,246.5 430.3,246.7 C436,247 439.5,251 439.5,256 C439.5,261 435,265.3 430.3,265.3 C426,265.3 423,263 422.5,260" fill="#f7f5f1" stroke="#555"/>
<path d="M427,267 L440.6,267.5 L436,273.8 L427,273.5 Z" stroke="#777"/>
<path d="M431,248 L440,243 L440,252" stroke="#999" stroke-width="0.8"/>
<path d="M300.3,298.3 L315.2,292.3 L321.5,306.3 L304.9,313.2 Z" stroke="#444" stroke-width="1"/>
<path d="M303,307.5 L320,304 M305.6,299.5 C305,302 305.5,305 306.2,307 M307.5,300.5 C309,298.5 313.5,298.5 314.5,301.5 C315.5,304.5 312,306 310,304.5 C308.5,303 309.5,300.5 312,301.5 M316,304.5 L317.5,304" stroke="#555" stroke-width="0.9"/>
<path d="M583.3,353.6 C583.7,353.7 583.7,355.4 584.4,355.4 C585.1,355.4 586.8,353.7 587.6,353.6 C588.5,353.5 589.2,353.9 589.5,354.6 C589.8,355.3 588.8,357.0 589.3,357.9 C589.8,358.8 592.1,359.4 592.2,360.0 C592.3,360.6 590.4,360.9 589.8,361.6 C589.2,362.3 589.2,363.4 588.7,364.3 C588.2,365.2 587.1,366.9 586.6,367.0 C586.1,367.1 586.4,365.2 585.5,364.9 C584.6,364.6 582.4,365.4 581.4,365.1 C580.4,364.8 579.8,364.2 579.8,363.3 C579.8,362.4 581.9,360.9 581.7,360.0 C581.5,359.1 579.0,358.6 578.5,357.9 C578.0,357.2 578.4,356.2 579.0,355.7 C579.6,355.2 581.3,355.4 582.0,355.0 C582.7,354.6 582.9,353.5 583.3,353.6 Z" stroke="#5a5a5a" stroke-width="1"/>
<path d="M583,357 L586,362 M586,358 L588,359" stroke="#777" stroke-width="0.8"/>
<circle cx="367.1" cy="383.3" r="4" stroke="#444" stroke-width="1.1"/><path d="M366,382 L368,384" stroke="#444"/>
<circle cx="273.4" cy="418.6" r="1.6" stroke="#777"/>
<circle cx="401.8" cy="418.5" r="1.8" stroke="#777" stroke-width="1.1"/>
<circle cx="448" cy="342.7" r="1.6" stroke="#999"/>
<path d="M382.5,346.5 L384.7,350.5 L386.8,346.5" stroke="#444" stroke-width="1.4"/>
<path d="M440,296 L440,301.5 C437.5,301.5 437,298.5 440,298.5" stroke="#555"/>
<path d="M667.5,360 L667.5,366 C671.5,366 671.5,360 667.5,360 M670.5,364.5 L672,366" stroke="#555"/>
<path d="M543.5,361.5 L543.5,370 M542,368 L543.5,370 L545,368" stroke="#555"/>
<path d="M728.6,204.5 L728.6,214 M727,206 L728.6,204.5" stroke="#555"/>
<path d="M514.2,333.4 L538.1,315.3 L551.6,335 L527.7,353.6 Z" stroke="#333" stroke-width="1.3" fill="#f9f7f3"/>
<path d="M516,333.6 L537.8,317.3 L549.8,334.8 L528,351.6 Z" stroke="#666" stroke-width="0.7"/>
<path d="M521.5,339 L530,333 M522.5,341.5 L538,330.5 M523.5,344 L539,333 M525,346.5 L541,335 M526.5,349 L543,337.5 M537.5,328 L545,323 M538.5,330.5 L546,325.5 M518.5,336 L525.5,331 L528.5,327" stroke="#444" stroke-width="0.8"/>
<path d="M532,322.5 C533,320.5 536,320 537,321 L538.5,324 C537,326 534.5,326 533.5,325 Z" stroke="#444" stroke-width="0.8"/>
<path d="M500,311.2 C505,310 512,309.3 517.8,309.1 C518.5,313 519,318 519.1,322.9 C513,324 507,324.8 501,325.4 C500,321 499.5,316 500,311.2 Z" fill="#f5e0a2" stroke="#5a4a30" stroke-width="1.1"/>
<path d="M500.5,311.6 L510.2,317.5 L516.7,309.4" stroke="#4a3a22" stroke-width="1.1"/>
<path d="M765.1,112 C765.2,110.5 766,109.9 767.5,109.8 L777.8,108.6 L779.7,110.7 L783.7,113.4 C784.5,115.5 784.8,117.5 784.6,119.7 L782.7,124.2 L765.6,125.3 C765.2,120.5 765,116 765.1,112 Z" fill="#f5e0a0" stroke="#4e4630" stroke-width="1.1"/>
<path d="M768.4,120.2 C769,118 769.5,116.5 770.3,116.1 C771.5,116 772,118 773,118.6 C774,118.5 774.5,116.5 775.7,116.4 C778,116.2 779.8,116.8 780,117.5 C780.8,118.5 780.8,119.5 780.5,120.2 C779.8,121.5 778.5,122 777.8,122.3" stroke="#3a3020" stroke-width="1.1"/>
<path d="M780,110.5 L780.6,111.8 M782.5,112.5 L782.9,113.5" stroke="#3a3020" stroke-width="1"/>
<circle cx="722.4" cy="187.4" r="12.6" fill="#f4cda8" stroke="#a88a70" stroke-width="1.1"/>
<circle cx="722.4" cy="187.4" r="9.5" fill="#f8d8bb" stroke="none" opacity="0.6" filter="url(#b1)"/>
<path d="M712.6,185.5 C715,184 718,182.5 720.6,182 L729.6,183 C730.5,186 730.5,190 730.2,193.2 L717.3,193.9 C715.5,191 714,188 712.6,185.5 Z" stroke="#4a3a2a" stroke-width="0.9"/>
<path d="M714,185.3 L722.6,191.9 M725.9,180.6 L716.6,193.2" stroke="#4a3a2a" stroke-width="1"/>
<path d="M781.3,228.3 L795.9,224.6 L799.9,243.2 L786,245.9 Z M783.3,236.9 L798.9,234.6 M798,243.8 L802.5,243" stroke="#444" stroke-width="1.1"/>
<path d="M784.5,231 L785.5,232 M788.5,232.5 L792,231.8 L792.2,235 L789,235.5 Z M789.5,239 L790.5,243 M791,240 L793.5,241 L791.2,242.5" stroke="#333" stroke-width="1"/>
<path d="M662.5,304.3 C662,299 663,296 667.9,292 C668.5,289 667.5,286 668.4,284.9 C669,283.5 670,282.5 670.4,282.4" stroke="#444" stroke-width="1.1"/>
<path d="M662.5,304.3 L711.7,304.8 C711,300 709.5,298 705.7,294.8" stroke="#444" stroke-width="1.1"/>
<path d="M668.2,273 C667.5,271.5 668.5,270 670,269.5 L678,267.8 C679.5,267.6 680,268.5 680.4,269.5 L686.8,291.2 C687,292.5 686.5,293.5 685,294 L678,295.2 C677,295.3 676.3,294.8 676,294 Z" fill="#fbfaf7" stroke="#3a3a3a" stroke-width="1.1"/>
<path d="M670.9,274 L678.4,271.5 L679.9,277.9 L672.4,280.4 Z M673,276 L677,275 M673.5,283.5 L681,281.2 M674.3,286.5 L682,284.2 M675,289.5 L683,287.2 M677,283 L678.5,289" stroke="#444" stroke-width="0.8"/>
<path d="M687.8,283.9 C689,282.5 691,282 693,282.8 L696.8,283.4 C699,283.8 701,284.5 701.8,284.9 L709.7,294.8 L703.8,295.3 C700,297.5 697,300 693.8,301.8 C690.5,299 688,297 685.8,294.8 Z" fill="#fbfaf7" stroke="#3a3a3a" stroke-width="1.1"/>
<path d="M690.5,285 L691.5,291 M693.5,284.5 L694.5,291 M696.5,285 L697.5,291.5 M701.8,285 L705,293" stroke="#555" stroke-width="0.8"/>
<path d="M732.3,353.1 C736,352 740,351.5 743.9,351.6 C745.5,353.5 746,355.5 745.7,357.2 C745.5,359.5 745.2,361.5 744.6,363.9 L733.4,364.6 C732.8,360.5 732.3,356.5 732.3,353.1 Z" stroke="#555" stroke-width="1"/>
<path d="M736.5,357.3 L739.8,358.9 L741.5,357.3 M733.4,364.6 L729.3,368.4 M742,364 L744.6,366.1 L748,362.4" stroke="#555" stroke-width="0.9"/>
<ellipse cx="736.6" cy="55.8" rx="4.6" ry="5.8" stroke="#555" stroke-width="1"/>
<path d="M735.5,48.5 L739.5,49.5 M734,51 C736,50 738,50 740,51.5 M736.5,57.5 L737.5,58.5" stroke="#666" stroke-width="0.9"/>
<path d="M688.5,31 L692.5,33.8 L689.5,35.8 Z" fill="#666" stroke="#666" stroke-width="0.8"/>
<path d="M644,209 L649,208 M644,211 L649,210" stroke="#aaa"/>
</g>
<g font-family="Liberation Sans, sans-serif" filter="url(#s1)">
<text x="164.7" y="232.2" font-size="12" fill="#7c7c7c" textLength="46" lengthAdjust="spacingAndGlyphs" >TrarigER</text>
<text x="167.9" y="243.8" font-size="10" fill="#7c7c7c" textLength="39" lengthAdjust="spacingAndGlyphs" >Aucrenis</text>
<line x1="459" y1="114" x2="464" y2="114" stroke="#555" stroke-width="1"/>
<text x="467.9" y="117" font-size="10.5" fill="#7c7c7c" textLength="44.6" lengthAdjust="spacingAndGlyphs" >Al Anealced</text>
<text x="469.5" y="126" font-size="10.5" fill="#7c7c7c" textLength="92" lengthAdjust="spacingAndGlyphs" >Isoionel Segeneratation</text>
<circle cx="465.4" cy="173" r="0.7" fill="#666"/>
<text x="470.6" y="174.8" font-size="8.7" fill="#7c7c7c" textLength="54" lengthAdjust="spacingAndGlyphs" >Concitime Sales</text>
<text x="470.6" y="185.6" font-size="8.7" fill="#7c7c7c" textLength="47.2" lengthAdjust="spacingAndGlyphs" >Nelitricatlon</text>
<text x="760.5" y="137.1" font-size="8" fill="#7c7c7c" textLength="44.8" lengthAdjust="spacingAndGlyphs" >-Emails, SNS</text>
<text x="766.3" y="146" font-size="8" fill="#7c7c7c" textLength="43.4" lengthAdjust="spacingAndGlyphs" >Sociflations</text>
<circle cx="719.8" cy="219.3" r="0.8" fill="#666"/>
<text x="723.7" y="222.5" font-size="8" fill="#7c7c7c" textLength="54.3" lengthAdjust="spacingAndGlyphs" >Resuld Learning</text>
<text x="727.5" y="230.8" font-size="8" fill="#7c7c7c" textLength="20.5" lengthAdjust="spacingAndGlyphs" >Nogks</text>
<text x="530.6" y="381.7" font-size="8" fill="#7c7c7c" textLength="61" lengthAdjust="spacingAndGlyphs" >Tsisamp tecbaid</text>
<text x="531.8" y="391.7" font-size="8" fill="#7c7c7c" textLength="64.2" lengthAdjust="spacingAndGlyphs" >— Mini Uolmaction</text>
<text x="316.7" y="324.1" font-size="8" fill="#7c7c7c" textLength="39.8" lengthAdjust="spacingAndGlyphs" >Cumpitiuld</text>
<text x="314.6" y="333" font-size="8" fill="#7c7c7c" textLength="17.8" lengthAdjust="spacingAndGlyphs" >Lases</text>
<line x1="308.8" y1="340.3" x2="312.5" y2="340.3" stroke="#666" stroke-width="0.9"/>
<text x="316.2" y="343.2" font-size="8" fill="#7c7c7c" textLength="55.4" lengthAdjust="spacingAndGlyphs" >Eaclmer ading</text>
</g>
<g filter="url(#s1)">
<line x1="293.7" y1="322.3" x2="312.5" y2="321.7" stroke="#555" stroke-width="1.0" opacity="1" stroke-linecap="round"/>
<path d="M312.5,321.7 L309.3,323.1 L309.2,320.5 Z" fill="#555" stroke="#555" stroke-width="0.6" stroke-linejoin="round"/>
</g>
</svg>
</body></html>
